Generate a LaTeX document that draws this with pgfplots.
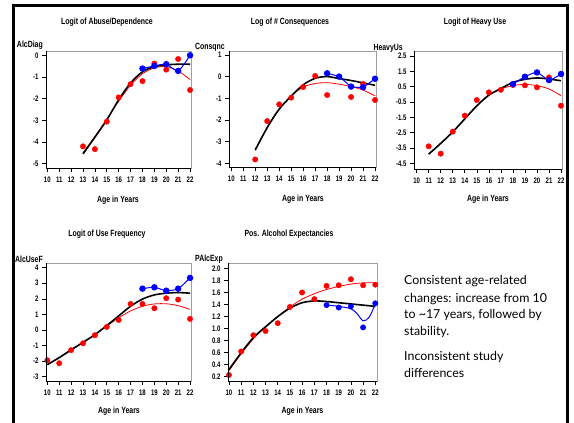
\documentclass[border=0pt]{standalone}
\usepackage{fontspec}
\setmainfont{Liberation Sans}
\newfontfamily\sas[FakeStretch=0.77]{Liberation Sans}
\newfontfamily\sastick[FakeStretch=0.75]{Liberation Sans}
\newfontfamily\gill{Lato}
\usepackage{pgfplots}
\pgfplotsset{compat=1.18}
\newcommand{\sasf}{\sas\bfseries\fontsize{9}{10}\selectfont}
\newcommand{\sast}{\sastick\bfseries\fontsize{8}{9}\selectfont}
\pgfplotsset{
 panel/.style={
  scale only axis,
  anchor=south west,
  axis line style={draw=gray!75, line width=0.7pt},
  tick pos=left, tick align=outside,
  major tick length=4pt,
  every tick/.style={black, line width=0.6pt},
  xtick={10,11,12,13,14,15,16,17,18,19,20,21,22},
  xticklabels={10,11,12,13,14,15,16,17,18,19,20,21,22},
  ticklabel style={font=\sast},
  xticklabel style={yshift=-1pt},
  clip=false,
  extra description/.code={\draw[black, line width=0.8pt] (0,1) -- (0,0) -- (1,0);},
 },
 redpt/.style={only marks, mark=*, mark size=2.7pt, color=red},
 bluept/.style={blue, line width=1pt, mark=*, mark size=2.7pt, smooth, tension=0.4},
 bluec/.style={blue, line width=1pt, smooth, no marks},
 blackc/.style={black, line width=1.6pt, smooth, no marks},
 redc/.style={red, line width=0.8pt, smooth, no marks},
}
\begin{document}
\begin{tikzpicture}
\useasboundingbox (0,0) rectangle (574pt,423pt);
% frame
\draw[line width=2.5pt] (12pt,417.5pt) -- (569pt,417.5pt);
\draw[line width=3pt] (13.5pt,419pt) -- (13.5pt,0pt);
\draw[line width=2.5pt] (567.5pt,419pt) -- (567.5pt,0pt);

% Panel 1
\begin{axis}[panel, at={(46pt,255pt)}, width=145pt, height=117pt,
  xmin=9.89, xmax=22.08, ymin=-5.2, ymax=0.2,
  ytick={-5,-4,-3,-2,-1,0}, yticklabels={-5,-4,-3,-2,-1,0}]
\addplot[redc] coordinates {(13,-4.5)(14,-3.75)(15,-2.95)(16,-2.12)(17,-1.38)(18,-0.85)(19,-0.58)(20,-0.52)(21,-0.72)(22,-1.12)};
\addplot[redpt] coordinates {(13,-4.2)(14,-4.33)(15,-3.06)(16,-1.94)(17,-1.33)(18,-1.19)(19,-0.38)(20,-0.66)(21,-0.17)(22,-1.6)};
\addplot[blackc] coordinates {(13,-4.55)(14,-3.78)(15,-2.98)(16,-2.05)(17,-1.28)(18,-0.76)(19,-0.52)(20,-0.44)(21,-0.41)(22,-0.41)};
\addplot[bluept] coordinates {(18,-0.61)(19,-0.49)(20,-0.41)(21,-0.72)(22,0.0)};
\end{axis}

% Panel 2
\begin{axis}[panel, at={(229pt,255.5pt)}, width=147pt, height=116.5pt,
  xmin=9.81, xmax=22.08, ymin=-4.19, ymax=1.18,
  ytick={-4,-3,-2,-1,0,1}, yticklabels={-4,-3,-2,-1,0,1}]
\addplot[redc] coordinates {(12,-3.4)(13,-2.35)(14,-1.48)(15,-0.9)(16,-0.48)(17,-0.32)(18,-0.28)(19,-0.35)(20,-0.46)(21,-0.62)(22,-0.89)};
\addplot[redpt] coordinates {(12,-3.82)(13,-2.05)(14,-1.28)(15,-0.97)(16,-0.48)(17,0.03)(18,-0.85)(20,-0.94)(21,-0.34)(22,-1.08)};
\addplot[blackc] coordinates {(12,-3.38)(13,-2.35)(14,-1.5)(15,-0.9)(16,-0.38)(17,-0.08)(18,0.0)(19,-0.09)(20,-0.18)(21,-0.29)(22,-0.4)};
\addplot[bluept, tension=0.2] coordinates {(18,0.15)(19,0.0)(20,-0.46)(21,-0.49)(22,-0.1)};
\end{axis}

% Panel 3
\begin{axis}[panel, at={(414pt,254pt)}, width=148pt, height=118pt,
  xmin=9.78, xmax=22.08, ymin=-4.87, ymax=2.83,
  ytick={-4.5,-3.5,-2.5,-1.5,-0.5,0.5,1.5,2.5}, yticklabels={-4.5,-3.5,-2.5,-1.5,-0.5,0.5,1.5,2.5}]
\addplot[redc] coordinates {(11,-3.9)(12,-3.2)(13,-2.45)(14,-1.6)(15,-0.75)(16,-0.05)(17,0.35)(18,0.57)(19,0.65)(20,0.57)(21,0.35)(22,-0.09)};
\addplot[redpt] coordinates {(11,-3.39)(12,-3.87)(13,-2.43)(14,-1.39)(15,-0.37)(16,0.13)(17,0.3)(18,0.61)(19,0.59)(20,0.46)(21,1.11)(22,-0.74)};
\addplot[blackc] coordinates {(11,-3.9)(12,-3.2)(13,-2.45)(14,-1.6)(15,-0.75)(16,-0.05)(17,0.38)(18,0.78)(19,0.98)(20,1.07)(21,1.0)(22,0.89)};
\addplot[bluept] coordinates {(18,0.67)(19,1.15)(20,1.43)(21,0.93)(22,1.33)};
\end{axis}

% Panel 4
\begin{axis}[panel, at={(46pt,42pt)}, width=145pt, height=118pt,
  xmin=9.89, xmax=22.08, ymin=-3.28, ymax=4.3,
  ytick={-3,-2,-1,0,1,2,3,4}, yticklabels={-3,-2,-1,0,1,2,3,4}]
\addplot[redc] coordinates {(10,-2.23)(11,-1.78)(12,-1.28)(13,-0.8)(14,-0.3)(15,0.25)(16,0.78)(17,1.22)(18,1.52)(19,1.67)(20,1.68)(21,1.56)(22,1.32)};
\addplot[redpt] coordinates {(10,-1.95)(11,-2.14)(12,-1.3)(13,-0.86)(14,-0.34)(15,0.19)(16,0.64)(17,1.67)(18,1.67)(19,1.39)(20,2.04)(21,1.95)(22,0.71)};
\addplot[blackc] coordinates {(10,-2.23)(11,-1.78)(12,-1.28)(13,-0.8)(14,-0.3)(15,0.28)(16,0.9)(17,1.52)(18,1.98)(19,2.25)(20,2.36)(21,2.4)(22,2.36)};
\addplot[bluept] coordinates {(18,2.65)(19,2.74)(20,2.52)(21,2.65)(22,3.34)};
\end{axis}

% Panel 5
\begin{axis}[panel, at={(228pt,42pt)}, width=149pt, height=118pt,
  xmin=9.92, xmax=22.14, ymin=0.13, ymax=2.09,
  ytick={0.2,0.4,0.6,0.8,1.0,1.2,1.4,1.6,1.8,2.0}, yticklabels={0.2,0.4,0.6,0.8,1.0,1.2,1.4,1.6,1.8,2.0}]
\addplot[redc] coordinates {(10,0.3)(11,0.58)(12,0.83)(13,1.03)(14,1.2)(15,1.36)(16,1.49)(17,1.58)(18,1.65)(19,1.7)(20,1.74)(21,1.76)(22,1.76)};
\addplot[redpt] coordinates {(10,0.23)(11,0.62)(12,0.89)(13,0.96)(14,1.09)(15,1.36)(16,1.6)(17,1.49)(18,1.71)(19,1.72)(20,1.82)(21,1.72)(22,1.73)};
\addplot[blackc] coordinates {(10,0.32)(11,0.6)(12,0.85)(13,1.03)(14,1.2)(15,1.34)(16,1.43)(17,1.46)(18,1.45)(19,1.43)(20,1.41)(21,1.39)(22,1.37)};
\addplot[bluec] coordinates {(18,1.39)(19,1.37)(20,1.33)(20.5,1.25)(21,1.13)(21.5,1.19)(22,1.41)};
\addplot[only marks, mark=*, mark size=2.7pt, blue] coordinates {(18,1.39)(19,1.35)(20,1.37)(21,1.02)(22,1.42)};
\end{axis}

% titles
\node[font=\sasf] at (107pt,401pt) {Logit of Abuse/Dependence};
\node[font=\sasf] at (290pt,401pt) {Log of \# Consequences};
\node[font=\sasf] at (475pt,401pt) {Logit of Heavy Use};
\node[font=\sasf] at (107pt,189pt) {Logit of Use Frequency};
\node[font=\sasf] at (289pt,189pt) {Pos. Alcohol Expectancies};
% y labels
\node[font=\sasf, anchor=east, inner sep=0pt] at (43pt,378pt) {AlcDiag};
\node[font=\sasf, anchor=east, inner sep=0pt] at (225pt,376pt) {Consqnc};
\node[font=\sasf, anchor=east, inner sep=0pt] at (403pt,375pt) {HeavyUs};
\node[font=\sasf, anchor=east, inner sep=0pt] at (43pt,164pt) {AlcUseF};
\node[font=\sasf, anchor=east, inner sep=0pt] at (223pt,164pt) {PAlcExp};
% x labels
\node[font=\sasf] at (118pt,223pt) {Age in Years};
\node[font=\sasf] at (303pt,224pt) {Age in Years};
\node[font=\sasf] at (488pt,224pt) {Age in Years};
\node[font=\sasf] at (119pt,12pt) {Age in Years};
\node[font=\sasf] at (302.5pt,12pt) {Age in Years};
% text block
\begin{scope}[every node/.style={font=\gill\fontsize{12.4}{14}\selectfont, anchor=base west, inner sep=0pt}]
\node at (404pt,138pt) {Consistent age-related};
\node at (404pt,120pt) {changes: increase from 10};
\node at (404pt,104pt) {to \textasciitilde 17 years, followed by};
\node at (404pt,87pt) {stability.};
\node at (404pt,62pt) {Inconsistent study};
\node at (404pt,45pt) {differences};
\end{scope}
\end{tikzpicture}
\end{document}
